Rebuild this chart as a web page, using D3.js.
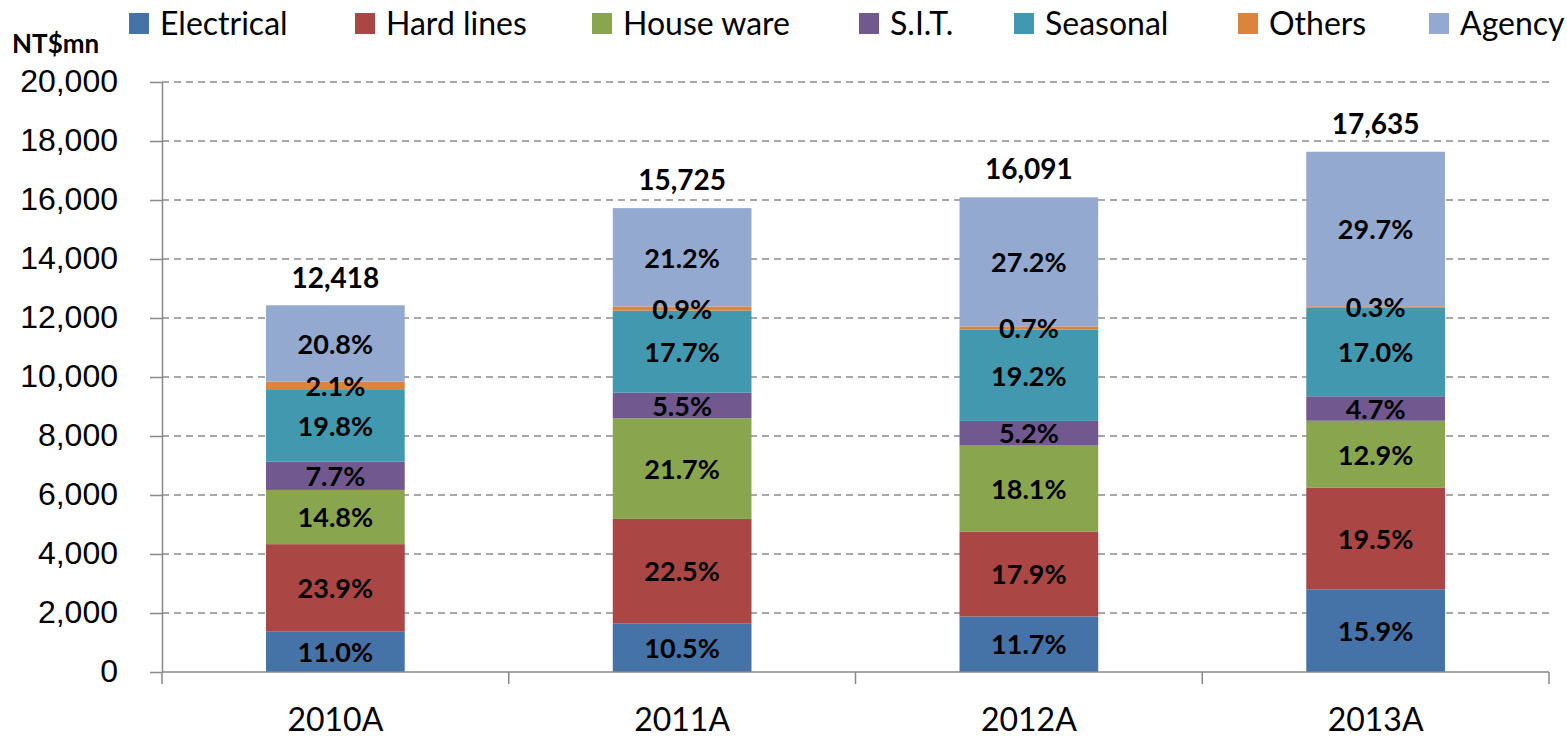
<!DOCTYPE html>
<html>
<head>
<meta charset="utf-8">
<script src="https://cdn.jsdelivr.net/npm/d3@7"></script>
<style>
  body { margin: 0; background: #fff; }
  svg { display: block; font-family: Lato, "Open Sans", sans-serif; }
</style>
</head>
<body>
<script>
const YEARS = ["2010A", "2011A", "2012A", "2013A"]
const TOTALS = [12418, 15725, 16091, 17635]
const SERIES = ["Electrical", "Hard lines", "House ware", "S.I.T.", "Seasonal", "Others", "Agency"]
const COLORS = ["#4572A7", "#AA4643", "#89A54E", "#71588F", "#4198AF", "#DB843D", "#93A9CF"]
// share of each year's total, in %
const SHARES = [
  [11.0, 10.5, 11.7, 15.9],  // Electrical
  [23.9, 22.5, 17.9, 19.5],  // Hard lines
  [14.8, 21.7, 18.1, 12.9],  // House ware
  [7.7, 5.5, 5.2, 4.7],      // S.I.T.
  [19.8, 17.7, 19.2, 17.0],  // Seasonal
  [2.1, 0.9, 0.7, 0.3],      // Others
  [20.8, 21.2, 27.2, 29.7]   // Agency
]
const Y_TICKS = d3.range(0, 20001, 2000)

const width = 1567, height = 737
const margin = { top: 82, right: 18, bottom: 65, left: 162 }
const innerW = width - margin.left - margin.right
const innerH = height - margin.top - margin.bottom

const rows = YEARS.map((yr, j) => {
  const r = { year: yr }
  SERIES.forEach((s, i) => { r[s] = TOTALS[j] * SHARES[i][j] / 100 })
  return r
})
const stacked = d3.stack().keys(SERIES)(rows)

const svg = d3.select("body").append("svg")
  .attr("width", width).attr("height", height)

const x = d3.scaleBand().domain(YEARS).range([margin.left, margin.left + innerW])
  .paddingInner(0.6).paddingOuter(0.3)
const y = d3.scaleLinear().domain([0, 20000]).range([margin.top + innerH, margin.top])

// gridlines
svg.append("g").selectAll("line").data(Y_TICKS.slice(1)).join("line")
  .attr("x1", margin.left).attr("x2", margin.left + innerW)
  .attr("y1", d => y(d)).attr("y2", d => y(d))
  .attr("stroke", "#8c8c8c").attr("stroke-width", 1.3).attr("stroke-dasharray", "7,5")

// y axis
const yAxis = svg.append("g").attr("transform", `translate(${margin.left},0)`)
  .call(d3.axisLeft(y).tickValues(Y_TICKS).tickFormat(d3.format(",")).tickSize(12).tickSizeOuter(0).tickPadding(32))
yAxis.select(".domain").attr("stroke", "#888").attr("stroke-width", 1.5)
yAxis.selectAll(".tick line").attr("stroke", "#888").attr("stroke-width", 1.5)
yAxis.selectAll("text").attr("font-size", 32).attr("fill", "#000").attr("dy", "0.3em")

// bars
stacked.forEach((layer, i) => {
  svg.append("g").selectAll("rect").data(layer).join("rect")
    .attr("x", d => x(d.data.year))
    .attr("width", x.bandwidth())
    .attr("y", d => y(d[1]))
    .attr("height", d => y(d[0]) - y(d[1]))
    .attr("fill", COLORS[i])
})

// x axis
const xAxisY = margin.top + innerH
const xg = svg.append("g")
xg.append("line").attr("x1", margin.left).attr("x2", margin.left + innerW)
  .attr("y1", xAxisY).attr("y2", xAxisY).attr("stroke", "#888").attr("stroke-width", 1.5)
xg.selectAll(".xt").data(d3.range(YEARS.length + 1)).join("line")
  .attr("x1", k => margin.left + k * innerW / YEARS.length)
  .attr("x2", k => margin.left + k * innerW / YEARS.length)
  .attr("y1", xAxisY).attr("y2", xAxisY + 12)
  .attr("stroke", "#888").attr("stroke-width", 1.5)
xg.selectAll("text").data(YEARS).join("text")
  .attr("x", d => x(d) + x.bandwidth() / 2)
  .attr("y", xAxisY + 59)
  .attr("text-anchor", "middle").attr("font-size", 32).attr("fill", "#000")
  .text(d => d)

// segment labels
stacked.forEach((layer, i) => {
  svg.append("g").selectAll("text").data(layer).join("text")
    .attr("x", d => x(d.data.year) + x.bandwidth() / 2)
    .attr("y", d => (y(d[0]) + y(d[1])) / 2)
    .attr("dy", "0.38em")
    .attr("text-anchor", "middle").attr("font-size", 27).attr("font-weight", "bold").attr("fill", "#000")
    .text((d, j) => SHARES[i][j].toFixed(1) + "%")
})

// totals
svg.append("g").selectAll("text").data(YEARS).join("text")
  .attr("x", d => x(d) + x.bandwidth() / 2)
  .attr("y", (d, j) => y(TOTALS[j]) - 18)
  .attr("text-anchor", "middle").attr("font-size", 28).attr("font-weight", "bold").attr("fill", "#000")
  .text((d, j) => d3.format(",")(TOTALS[j]))

// unit label
svg.append("text").attr("x", 12).attr("y", 53)
  .attr("font-size", 26).attr("font-weight", "bold").attr("fill", "#000").text("NT$mn")

// legend
const LEGEND_X = [129, 355, 592, 859, 1014, 1238, 1429]
const lg = svg.append("g").selectAll("g").data(SERIES).join("g")
  .attr("transform", (d, i) => `translate(${LEGEND_X[i]},0)`)
lg.append("rect").attr("x", 0).attr("y", 13).attr("width", 20).attr("height", 21)
  .attr("fill", (d, i) => COLORS[i])
lg.append("text").attr("x", 31).attr("y", 35)
  .attr("font-size", 32).attr("fill", "#000").text(d => d)
</script>
</body>
</html>
